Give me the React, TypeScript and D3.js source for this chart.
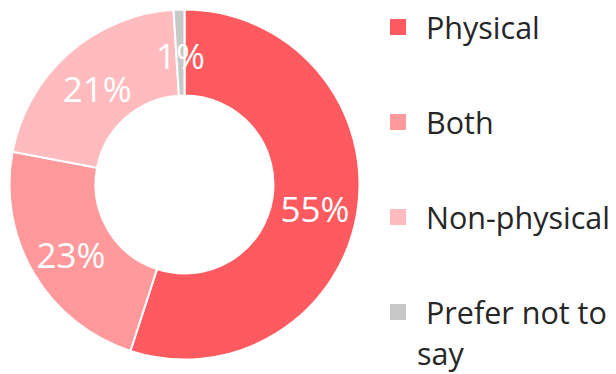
import React from "react";
import * as d3 from "d3";

const categories = ["Physical", "Both", "Non-physical", "Prefer not to say"];
const values = [55, 23, 21, 1];
const colors = ["#FF5A5F", "#FF999C", "#FFBBBD", "#C8C8C8"];

const W = 616;
const H = 374;
const FONT = "'Open Sans', 'Noto Sans', sans-serif";

export default function App() {
  const cx = 184.5;
  const cy = 184.5;
  const outerR = 175;
  const innerR = 89;
  const total = d3.sum(values);
  const pie = d3
    .pie<number>()
    .sort(null)
    .value((d) => d)(values);
  const arc = d3.arc<d3.PieArcDatum<number>>().innerRadius(innerR).outerRadius(outerR);

  const legendX = 390;
  const legendY0 = 27;
  const legendStep = 95;
  const sq = 16;
  const textX = 426;
  const maxTextW = 190;

  // simple word wrapping for the legend labels
  const wrap = (s: string): string[] => {
    const approx = (t: string) => t.length * 13;
    const words = s.split(" ");
    const lines: string[] = [];
    let cur = "";
    words.forEach((w) => {
      const t = cur ? cur + " " + w : w;
      if (approx(t) > maxTextW && cur) {
        lines.push(cur);
        cur = w;
      } else cur = t;
    });
    if (cur) lines.push(cur);
    return lines;
  };

  return (
    <svg
      width={W}
      height={H}
      style={{ position: "absolute", left: 0, top: 0, background: "#fff" }}
      fontFamily={FONT}
    >
      <g transform={`translate(${cx},${cy})`}>
        {pie.map((p, i) => (
          <path key={i} d={arc(p) || ""} fill={colors[i]} stroke="#fff" strokeWidth={2} />
        ))}
        {pie.map((p, i) => {
          const [x, y] = arc.centroid(p);
          return (
            <text
              key={"l" + i}
              x={x}
              y={y + 3}
              fill="#fff"
              fontSize={35}
              textAnchor="middle"
              dominantBaseline="central"
            >
              {Math.round((p.data / total) * 100) + "%"}
            </text>
          );
        })}
      </g>
      <g>
        {categories.map((c, i) => {
          const yc = legendY0 + i * legendStep;
          const lines = wrap(c);
          return (
            <g key={"lg" + i}>
              <rect x={legendX} y={yc - sq / 2} width={sq} height={sq} fill={colors[i]} />
              {lines.map((ln, j) => (
                <text
                  key={j}
                  x={j === 0 ? textX : textX - 9}
                  y={yc + j * 41}
                  dominantBaseline="central"
                  fontSize={30.5}
                  fill="#262626"
                >
                  {ln}
                </text>
              ))}
            </g>
          );
        })}
      </g>
    </svg>
  );
}
